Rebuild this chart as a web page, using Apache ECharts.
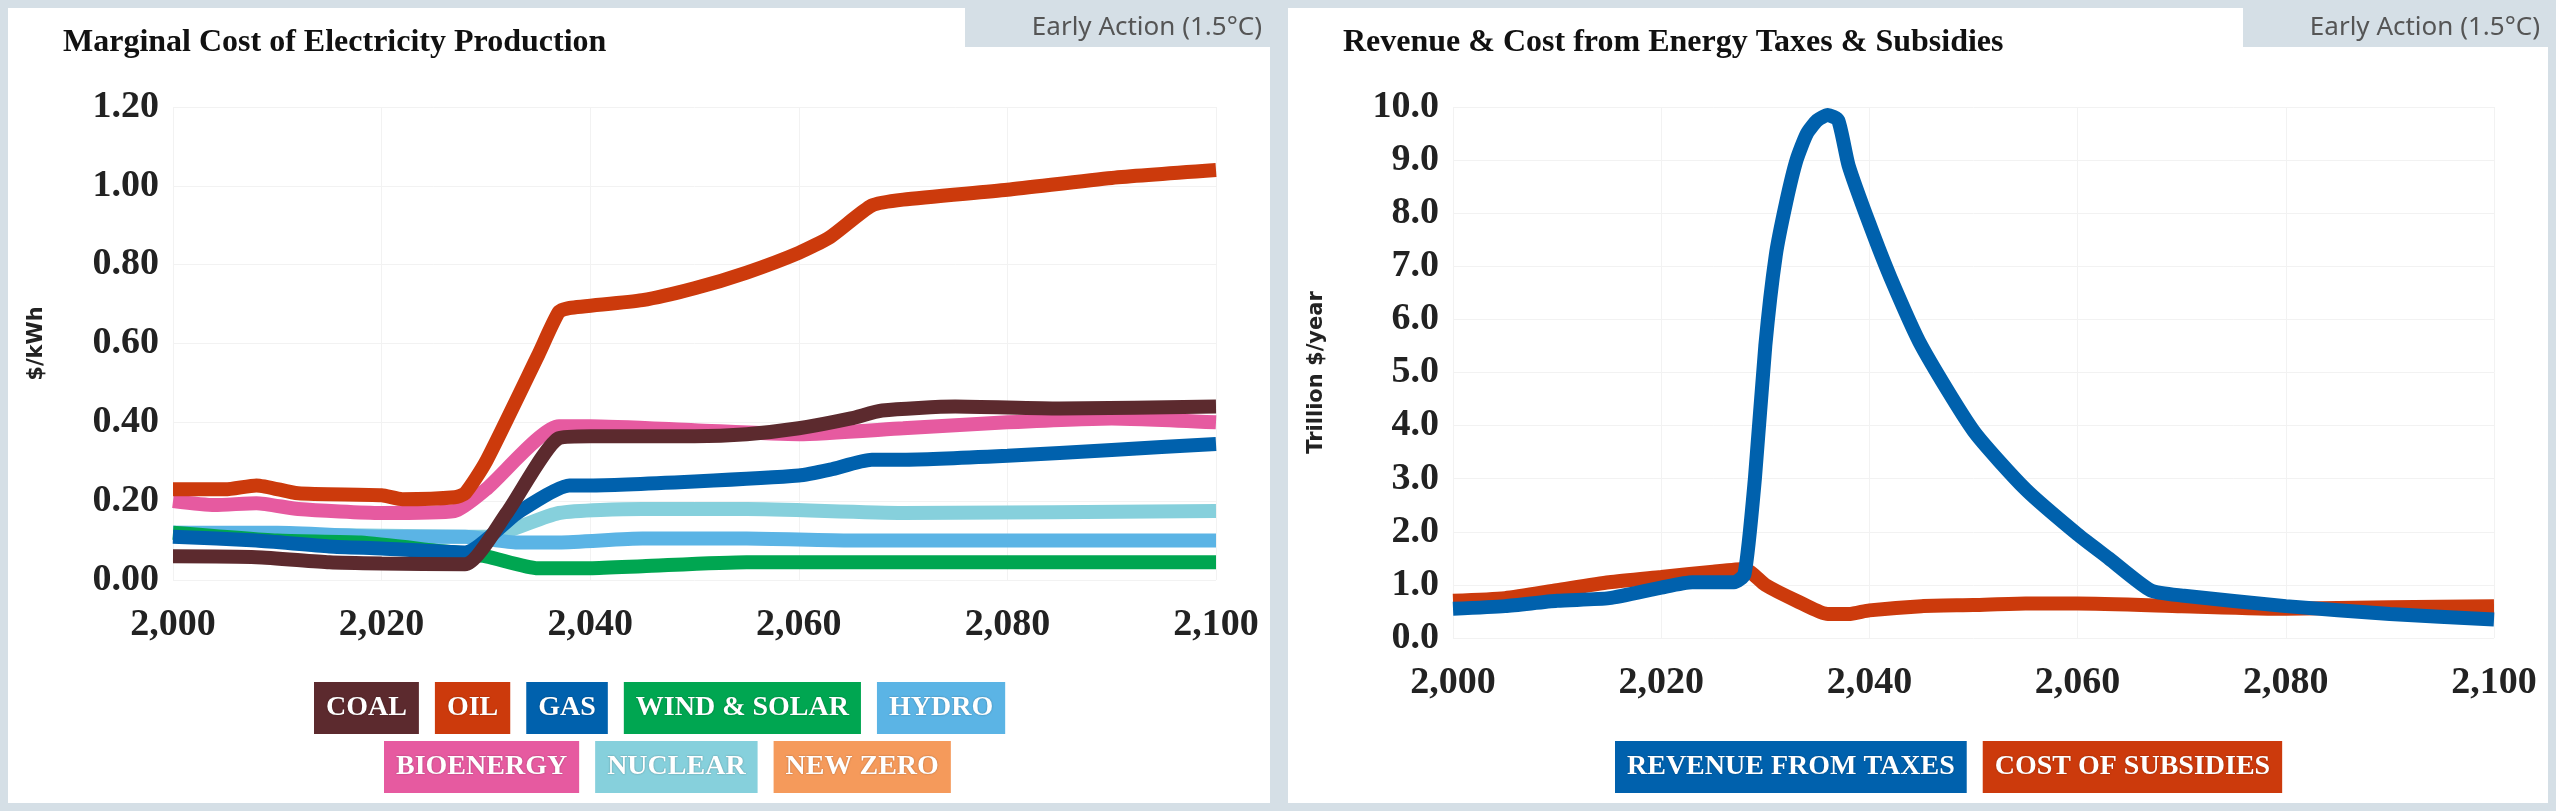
<!DOCTYPE html>
<html>
<head>
<meta charset="utf-8">
<script src="https://cdn.jsdelivr.net/npm/echarts@6/dist/echarts.min.js"></script>
<style>
html, body { margin: 0; padding: 0; background: #d5dfe6; }
#chart { width: 2556px; height: 811px; }
</style>
</head>
<body>
<div id="chart"></div>
<script>
// Marginal cost, $/kWh: [year, value]
const coal = [[2000,0.06],[2008,0.058],[2015,0.045],[2020,0.042],[2028,0.04],[2032,0.17],[2037,0.36],[2040,0.365],[2050,0.365],[2055,0.37],[2060,0.385],[2065,0.41],[2068,0.43],[2075,0.44],[2085,0.435],[2100,0.44]];
const oil = [[2000,0.23],[2005,0.23],[2008,0.24],[2012,0.22],[2020,0.215],[2022,0.205],[2027,0.21],[2028,0.22],[2030,0.3],[2035,0.57],[2037,0.68],[2038,0.69],[2045,0.71],[2050,0.74],[2055,0.78],[2060,0.83],[2063,0.87],[2067,0.95],[2070,0.965],[2080,0.99],[2090,1.02],[2100,1.04]];
const gas = [[2000,0.11],[2008,0.1],[2015,0.085],[2020,0.08],[2028,0.07],[2033,0.17],[2038,0.24],[2040,0.24],[2050,0.25],[2060,0.265],[2063,0.28],[2067,0.305],[2070,0.305],[2080,0.315],[2090,0.33],[2100,0.345]];
const windSolar = [[2000,0.12],[2010,0.1],[2018,0.095],[2025,0.075],[2030,0.06],[2035,0.03],[2040,0.03],[2045,0.035],[2055,0.045],[2100,0.045]];
const hydro = [[2000,0.12],[2010,0.12],[2020,0.11],[2028,0.11],[2033,0.095],[2037,0.095],[2045,0.105],[2055,0.105],[2065,0.1],[2100,0.1]];
const bioenergy = [[2000,0.2],[2004,0.19],[2008,0.195],[2012,0.18],[2020,0.17],[2027,0.175],[2030,0.23],[2037,0.39],[2040,0.39],[2050,0.38],[2060,0.37],[2070,0.385],[2080,0.4],[2090,0.41],[2100,0.4]];
const nuclear = [[2000,0.12],[2028,0.11],[2030,0.11],[2037,0.17],[2045,0.18],[2055,0.18],[2070,0.17],[2100,0.175]];
const newZero = [];

// Trillion $/year
const revenue = [[2000,0.55],[2005,0.6],[2010,0.7],[2015,0.75],[2020,0.95],[2023,1.05],[2027,1.05],[2028,1.2],[2029,3.0],[2030,5.5],[2031,7.2],[2032,8.2],[2033,9.0],[2034,9.5],[2035,9.75],[2036,9.85],[2037,9.75],[2038,8.9],[2040,7.8],[2042,6.8],[2045,5.5],[2050,3.9],[2055,2.8],[2060,1.95],[2063,1.5],[2067,0.9],[2070,0.8],[2080,0.6],[2090,0.45],[2100,0.35]];
const subsidies = [[2000,0.7],[2005,0.75],[2010,0.9],[2015,1.05],[2020,1.15],[2025,1.25],[2028,1.3],[2030,1.0],[2033,0.7],[2036,0.45],[2038,0.45],[2040,0.52],[2045,0.6],[2050,0.62],[2055,0.65],[2060,0.65],[2070,0.6],[2080,0.55],[2090,0.58],[2100,0.6]];

const colours = {
	COAL: "#5c2a2e", OIL: "#cc3a0c", GAS: "#0061ad", "WIND & SOLAR": "#00a651",
	HYDRO: "#5bb4e5", BIOENERGY: "#e65aa0", NUCLEAR: "#86d0dc", "NEW ZERO": "#f59a5b",
	"REVENUE FROM TAXES": "#0061ad", "COST OF SUBSIDIES": "#cc3a0c",
};
const narrow = "Liberation Sans Narrow";

function legendItem(name) {
	return {
		name: name,
		icon: "none",
		textStyle: {
			color: "#fff", backgroundColor: colours[name], padding: [12, 12],
			fontSize: 28, fontWeight: "bold", fontFamily: narrow, lineHeight: 28,
			textShadowColor: "rgba(0,0,0,0.3)", textShadowBlur: 2,
		},
	};
}
function legend(names, left, top) {
	return { data: names.map(legendItem), left: left, top: top, itemWidth: 0, itemGap: 11, selectedMode: false };
}
function xAxis(gridIndex) {
	return {
		type: "value", gridIndex: gridIndex, min: 2000, max: 2100, interval: 20,
		axisLine: { show: false }, axisTick: { show: false },
		splitLine: { lineStyle: { color: "#f2f2f2" } },
		axisLabel: { color: "#222", fontSize: 38, fontWeight: "bold", fontFamily: narrow, margin: 26 },
	};
}
function yAxis(gridIndex, max, interval, digits, name) {
	return {
		type: "value", gridIndex: gridIndex, min: 0, max: max, interval: interval,
		name: name, nameLocation: "middle", nameGap: 126,
		nameTextStyle: { fontSize: 21, fontWeight: "bold", fontFamily: "DejaVu Sans", color: "#222" },
		axisLine: { show: false }, axisTick: { show: false },
		splitLine: { lineStyle: { color: "#f2f2f2" } },
		axisLabel: { color: "#222", fontSize: 38, fontWeight: "bold", fontFamily: narrow, margin: 14, formatter: (v) => v.toFixed(digits) },
	};
}
function line(name, data, idx) {
	return {
		name: name, type: "line", data: data, xAxisIndex: idx, yAxisIndex: idx,
		showSymbol: false, smooth: 0.2, lineStyle: { width: 14, color: colours[name] },
		itemStyle: { color: colours[name] },
	};
}
function panel(x, w) {
	return [
		{ type: "rect", shape: { x: x, y: 8, width: w, height: 795 }, style: { fill: "#fff" }, z: -10 },
		{ type: "rect", shape: { x: x + w - 305, y: 8, width: 305, height: 39 }, style: { fill: "#d5dfe6" }, z: -9 },
		{ type: "text", x: x + w - 8, y: 28, style: { text: "Early Action (1.5°C)", fill: "#555", font: "26px 'Noto Sans'", textAlign: "right", textVerticalAlign: "middle" } },
	];
}

const chart = echarts.init(document.getElementById("chart"));
chart.setOption({
	animation: false,
	graphic: [...panel(8, 1262), ...panel(1288, 1260)],
	title: [
		{ text: "Marginal Cost of Electricity Production", left: 58, top: 22, textStyle: { fontSize: 32, fontWeight: "bold", fontFamily: narrow, color: "#111" } },
		{ text: "Revenue & Cost from Energy Taxes & Subsidies", left: 1338, top: 22, textStyle: { fontSize: 32, fontWeight: "bold", fontFamily: narrow, color: "#111" } },
	],
	legend: [
		legend(["COAL", "OIL", "GAS", "WIND & SOLAR", "HYDRO"], 304, 677),
		legend(["BIOENERGY", "NUCLEAR", "NEW ZERO"], 374, 736),
		legend(["REVENUE FROM TAXES", "COST OF SUBSIDIES"], 1605, 736),
	],
	grid: [
		{ left: 173, top: 107, width: 1043, height: 473 },
		{ left: 1453, top: 107, width: 1041, height: 531 },
	],
	xAxis: [xAxis(0), xAxis(1)],
	yAxis: [yAxis(0, 1.2, 0.2, 2, "$/kWh"), yAxis(1, 10, 1, 1, "Trillion $/year")],
	series: [
		line("NEW ZERO", newZero, 0),
		line("NUCLEAR", nuclear, 0),
		line("HYDRO", hydro, 0),
		line("WIND & SOLAR", windSolar, 0),
		line("GAS", gas, 0),
		line("BIOENERGY", bioenergy, 0),
		line("OIL", oil, 0),
		line("COAL", coal, 0),
		line("COST OF SUBSIDIES", subsidies, 1),
		line("REVENUE FROM TAXES", revenue, 1),
	],
});
</script>
</body>
</html>
